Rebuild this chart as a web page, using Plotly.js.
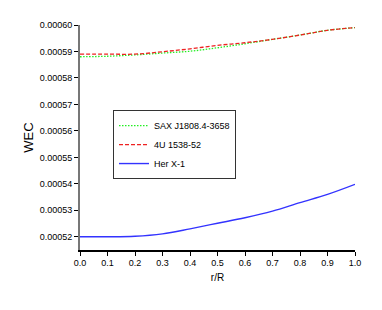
<!DOCTYPE html>
<html><head><meta charset="utf-8">
<script src="https://cdn.plot.ly/plotly-3.0.1.min.js"></script>
<style>body{margin:0;background:#fff}#c{width:382px;height:310px}</style>
</head><body><div id="c"></div>
<script>
const rR = [0.0,0.1,0.2,0.3,0.4,0.5,0.6,0.7,0.8,0.9,1.0];
const wecSAX = [0.000588,0.0005882,0.0005887,0.0005894,0.0005901,0.0005914,0.0005929,0.0005946,0.0005962,0.000598,0.000599];
const wec4U = [0.000589,0.000589,0.000589,0.0005899,0.000591,0.0005923,0.0005933,0.0005946,0.0005962,0.000598,0.000599];
const wecHer = [0.00052,0.00052,0.0005202,0.0005211,0.000523,0.0005251,0.0005272,0.0005297,0.0005329,0.000536,0.0005398];
const names = ["SAX J1808.4-3658","4U 1538-52","Her X-1"];
const yTicks = [0.00052,0.00053,0.00054,0.00055,0.00056,0.00057,0.00058,0.00059,0.00060];
const yTickText = ["0.00052","0.00053","0.00054","0.00055","0.00056","0.00057","0.00058","0.00059","0.00060"];
const xTicks = [0,0.1,0.2,0.3,0.4,0.5,0.6,0.7,0.8,0.9,1.0];
const xTickText = ["0.0","0.1","0.2","0.3","0.4","0.5","0.6","0.7","0.8","0.9","1.0"];

const traces = [
  {x:rR,y:wecSAX,name:names[0],mode:'lines',line:{color:'#22ee22',dash:'1.5px,1.5px',width:1.3,shape:'spline'}},
  {x:rR,y:wec4U,name:names[1],mode:'lines',line:{color:'#ee2222',dash:'4px,2px',width:1.3,shape:'spline'}},
  {x:rR,y:wecHer,name:names[2],mode:'lines',line:{color:'#3333ff',width:1.4,shape:'spline'}}
];
const layout = {
  width:382,height:310,
  margin:{l:80,r:27,t:25,b:60},
  paper_bgcolor:'#fff',plot_bgcolor:'#fff',
  font:{family:'Liberation Sans, Arial, sans-serif',size:9,color:'#000'},
  showlegend:true,
  legend:{x:0.12,y:0.622,xanchor:'left',yanchor:'top',bordercolor:'#333',borderwidth:1,
    font:{size:9},bgcolor:'rgba(255,255,255,0)',tracegroupgap:0,itemwidth:30},
  xaxis:{range:[0,1],tickvals:xTicks,ticktext:xTickText,ticks:'outside',ticklen:4,tickcolor:'#000',
    showline:true,linecolor:'#000',linewidth:1.5,showgrid:false,zeroline:false,
    title:{text:'r/R',font:{size:10},standoff:6}},
  yaxis:{range:[0.000515,0.0006],tickvals:yTicks,ticktext:yTickText,ticks:'outside',ticklen:4,tickcolor:'#000',
    showline:true,linecolor:'#777',linewidth:2,showgrid:false,zeroline:false,
    title:{text:'WEC',font:{size:13},standoff:3}}
};
Plotly.newPlot('c',traces,layout,{displayModeBar:false,staticPlot:true});
</script></body></html>
